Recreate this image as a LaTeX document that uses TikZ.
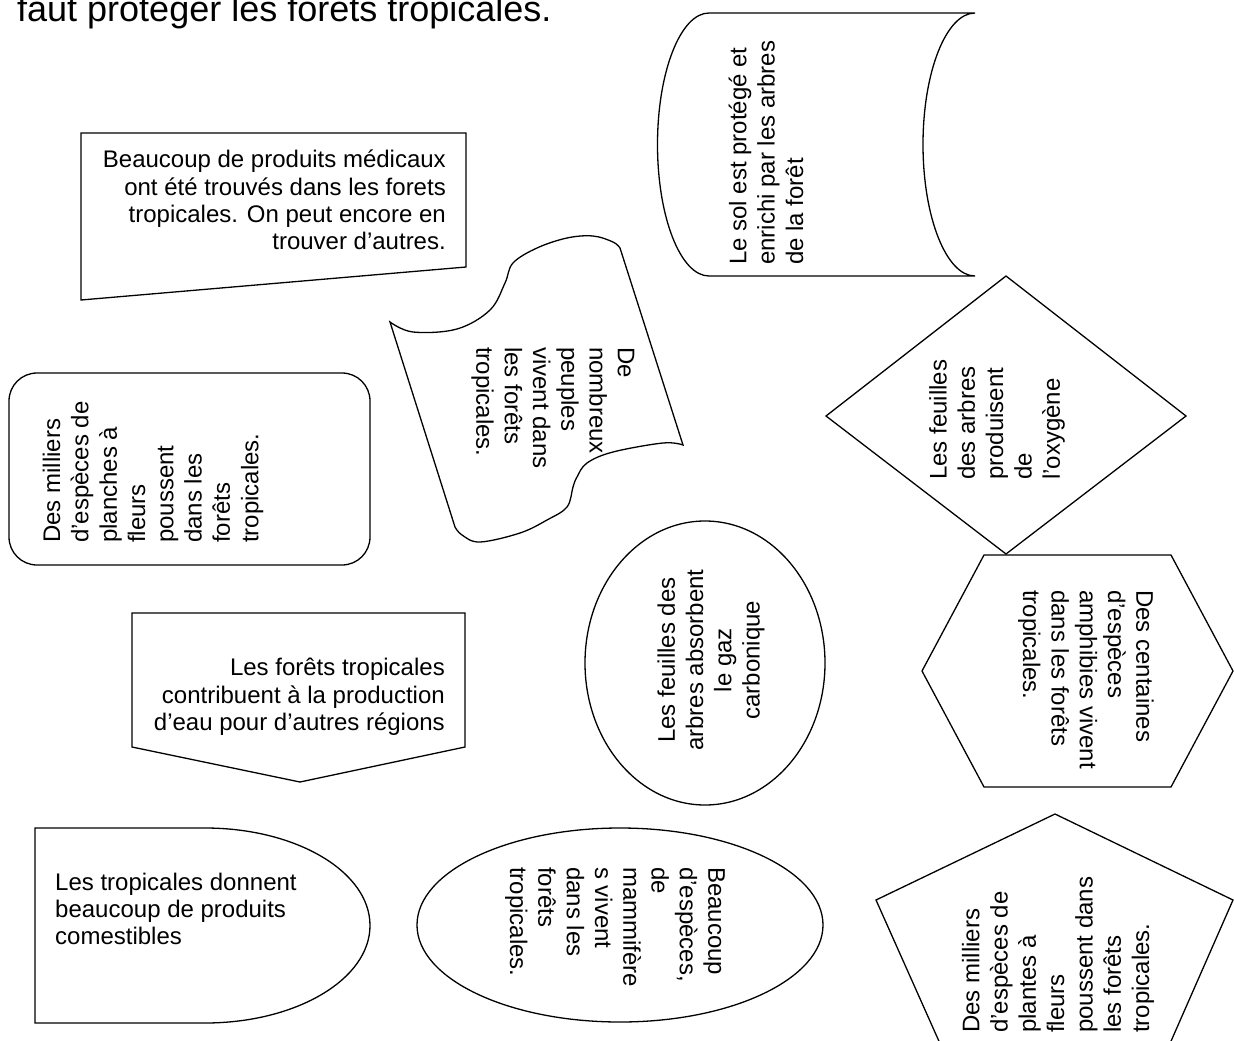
\documentclass[tikz,border=0pt]{standalone}
\usepackage{fontspec}
\setmainfont{Liberation Sans}
\begin{document}
\begin{tikzpicture}[x=1pt,y=-1pt,
  shp/.style={draw=black, line width=1.3pt, line join=miter},
  txt/.style={inner sep=0pt, font=\fontsize{24}{27.3}\selectfont},
  rtxt/.style={inner sep=0pt, font=\fontsize{24}{28.3}\selectfont},
  ttl/.style={inner sep=0pt, font=\fontsize{36}{43}\selectfont}]
\useasboundingbox (0,0) rectangle (1234,1041);
\fill[white] (0,0) rectangle (1234,1041);
\clip (0,0) rectangle (1234,1041);

% title (cut at top)
\node[ttl, anchor=base west] (title) at (17,22) {faut protéger les forêts tropicales.};

% manual input box
\draw[shp] (81,133) -- (466,133) -- (466,267) -- (81,300) -- cycle;
\node[txt, anchor=east, align=right] (med) at (446,200)
  {Beaucoup de produits médicaux\\ont été trouvés dans les forets\\tropicales. On peut encore en\\trouver d’autres.};

% wave / tape shape
\draw[shp] plot[smooth, tension=0.6] coordinates {(390,322) (413,332) (457,329) (490,310) (505,283) (513,263) (537,248) (567,238) (593,236) (613,242) (620,248)}
  -- plot[smooth, tension=0.6] coordinates {(683,445) (663,443) (613,452) (587,463) (577,477) (573,487) (567,507) (547,520) (520,533) (480,542) (462,535) (455,527)}
  -- cycle;
\node[rtxt, rotate=-90, anchor=west, align=left] (peuples) at (553,347)
  {De\\nombreux\\peuples\\vivent dans\\les forêts\\tropicales.};

% stored data (cylinder)
\draw[shp] (709,13) -- (975,13) arc[start angle=-90, end angle=-270, x radius=52, y radius=131.5]
  -- (709,276) arc[start angle=90, end angle=270, x radius=51.5, y radius=131.5] -- cycle;
\node[rtxt, rotate=90, anchor=west, align=left] (sol) at (766,265)
  {Le sol est protégé et\\enrichi par les arbres\\de la forêt};

% diamond
\draw[shp] (1006,276) -- (1186,416) -- (1006,554) -- (826,416) -- cycle;
\node[rtxt, rotate=90, anchor=west, align=left] (oxy) at (997,480)
  {Les feuilles\\des arbres\\produisent\\de\\l’oxygène};

% hexagon
\draw[shp] (984,555) -- (1171,555) -- (1233,671) -- (1171,787) -- (984,787) -- (922,671) -- cycle;
\node[rtxt, rotate=-90, anchor=west, align=left] (amph) at (1086,590)
  {Des centaines\\d’espèces\\amphibies vivent\\dans les forêts\\tropicales.};

% ellipse gaz carbonique
\draw[shp] (705,663) ellipse[x radius=120, y radius=142];
\node[rtxt, rotate=90, anchor=center, align=center] (gaz) at (711,660)
  {Les feuilles des\\arbres absorbent\\le gaz\\carbonique};

% ellipse mammiferes
\draw[shp] (620,925) ellipse[x radius=203, y radius=97];
\node[rtxt, rotate=-90, anchor=west, align=left] (mamm) at (615,867)
  {Beaucoup\\d’espèces,\\de\\mammifère\\s vivent\\dans les\\forêts\\tropicales.};

% rounded rectangle
\draw[shp, rounded corners=28pt] (9,373) rectangle (370,565);
\node[rtxt, rotate=90, anchor=west, align=left] (planches) at (153,543)
  {Des milliers\\d’espèces de\\planches à\\fleurs\\poussent\\dans les\\forêts\\tropicales.};

% off-page connector
\draw[shp] (132,613) -- (465,613) -- (465,747) -- (300,782) -- (132,747) -- cycle;
\node[txt, anchor=east, align=right] (eau) at (445,697)
  {Les forêts tropicales\\contribuent à la production\\d’eau pour d’autres régions};

% delay shape
\draw[shp] (35,828) -- (205,828) arc[start angle=-90, end angle=90, x radius=165, y radius=97.5] -- (35,1023) -- cycle;
\node[txt, anchor=west, align=left] (comest) at (55,909)
  {Les tropicales donnent\\beaucoup de produits\\comestibles};

% pentagon
\draw[shp] (1055,814) -- (1233,900) -- (1168,1048) -- (942,1048) -- (876,900) -- cycle;
\node[rtxt, rotate=90, anchor=west, align=left] (plantes) at (1058,1033)
  {Des milliers\\d’espèces de\\plantes à\\fleurs\\poussent dans\\les forêts\\tropicales.};
\end{tikzpicture}
\end{document}
